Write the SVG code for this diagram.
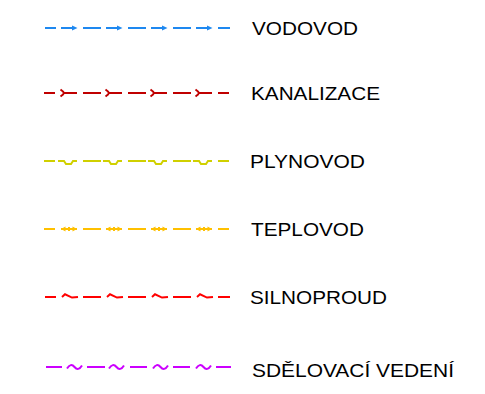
<svg xmlns="http://www.w3.org/2000/svg" xmlns:xlink="http://www.w3.org/1999/xlink" width="485" height="394" viewBox="0 0 485 394">
<style>
.ln{fill:none;stroke-width:2;stroke-linecap:butt;stroke-linejoin:miter}
.lbl{font-family:"Liberation Sans",Arial,sans-serif;font-size:17.5px;fill:#000}
</style>
<defs>
<g id="s1"><path d="M0,0H12" class="ln" stroke="#1E88F0"/><path d="M11,-2.6L16.5,0L11,2.6Z" fill="#1E88F0"/></g>
<g id="s2" class="ln" stroke="#C00000"><path d="M-0.5,-3.5Q2.5,-1.5 3,0Q2.5,1.5 -0.5,3.5"/><path d="M3,0H16"/></g>
<g id="s3" class="ln" stroke="#D0D000"><path d="M-3,0H3L5,3H10L12,0H16"/></g>
<g id="s4"><path d="M0,0H16M8,-2V2" class="ln" stroke="#FFC000"/><path d="M0,0L4.5,-2.6V2.6Z M16,0L11.5,-2.6V2.6Z" fill="#FFC000"/></g>
<g id="s5" class="ln" stroke="#FF0000"><path d="M0,0L3,-2.7L10,0.6L16,0"/></g>
<g id="s6" class="ln" stroke="#CC00FF"><path d="M0,1.5Q3.75,-4.5 7.5,0T15,-1.5"/></g>
</defs>
<g id="connectors">
<g id="line-vodovod" transform="translate(0,28)">
<path class="ln" stroke="#1E88F0" d="M45,0H56M83,0H101M128,0H146M173,0H191M218,0H230"/>
<use xlink:href="#s1" x="61"/><use xlink:href="#s1" x="106"/><use xlink:href="#s1" x="151"/><use xlink:href="#s1" x="196"/>
</g>
<g id="line-kanalizace" transform="translate(0,93)">
<path class="ln" stroke="#C00000" d="M44,0H55M83,0H101M128,0H146M173,0H191M218,0H229"/>
<use xlink:href="#s2" x="61"/><use xlink:href="#s2" x="106"/><use xlink:href="#s2" x="151"/><use xlink:href="#s2" x="196"/>
</g>
<g id="line-plynovod" transform="translate(0,161)">
<path class="ln" stroke="#D0D000" d="M44,0H55M83,0H101M128,0H146M173,0H191M218,0H229"/>
<use xlink:href="#s3" x="61"/><use xlink:href="#s3" x="106"/><use xlink:href="#s3" x="151"/><use xlink:href="#s3" x="196"/>
</g>
<g id="line-teplovod" transform="translate(0,229)">
<path class="ln" stroke="#FFC000" d="M44,0H55M83,0H101M128,0H146M173,0H191M218,0H229"/>
<use xlink:href="#s4" x="61"/><use xlink:href="#s4" x="106"/><use xlink:href="#s4" x="151"/><use xlink:href="#s4" x="196"/>
</g>
<g id="line-silnoproud" transform="translate(0,297)">
<path class="ln" stroke="#FF0000" d="M45,0H56M83,0H101M128,0H146M173,0H191M218,0H230"/>
<use xlink:href="#s5" x="62"/><use xlink:href="#s5" x="107"/><use xlink:href="#s5" x="152"/><use xlink:href="#s5" x="197"/>
</g>
<g id="line-sdelovaci" transform="translate(0,367)">
<path class="ln" stroke="#CC00FF" d="M46,0H62M87,0H105M130,0H147M173,0H190M216,0H231"/>
<use xlink:href="#s6" x="67"/><use xlink:href="#s6" x="109"/><use xlink:href="#s6" x="153"/><use xlink:href="#s6" x="196"/>
</g>
</g>
<g id="label-vodovod"><text class="lbl" x="252" y="34.7" textLength="106" lengthAdjust="spacingAndGlyphs">VODOVOD</text></g>
<g id="label-kanalizace"><text class="lbl" x="251" y="99.5" textLength="129" lengthAdjust="spacingAndGlyphs">KANALIZACE</text></g>
<g id="label-plynovod"><text class="lbl" x="250" y="167.5" textLength="115" lengthAdjust="spacingAndGlyphs">PLYNOVOD</text></g>
<g id="label-teplovod"><text class="lbl" x="251" y="235.5" textLength="113" lengthAdjust="spacingAndGlyphs">TEPLOVOD</text></g>
<g id="label-silnoproud"><text class="lbl" x="250" y="303.5" textLength="137" lengthAdjust="spacingAndGlyphs">SILNOPROUD</text></g>
<g id="label-sdelovaci"><text class="lbl" x="252" y="377" textLength="202" lengthAdjust="spacingAndGlyphs">SDĚLOVACÍ VEDENÍ</text></g>
</svg>
